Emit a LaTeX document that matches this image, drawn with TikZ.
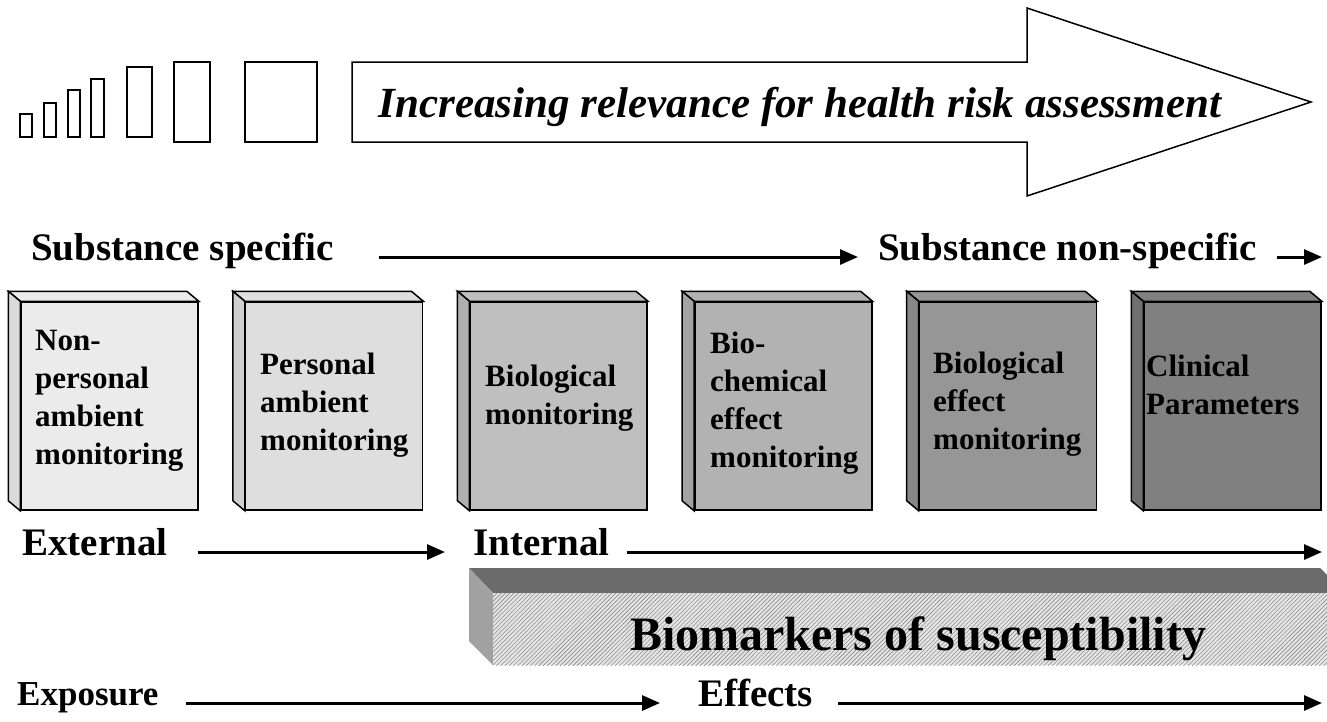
\documentclass[tikz,border=0pt]{standalone}
\usepackage{fontspec}
\setmainfont{Liberation Serif}
\usetikzlibrary{arrows.meta,patterns.meta}
\tikzset{
    flow/.style={line width=3pt, -{Triangle[length=18pt,width=15pt]}}, % Pfeile zwischen den Stufen
    edge/.style={draw, line width=1.5pt},
    monbox/.style={edge, minimum width=177pt, minimum height=208pt, inner sep=0pt},
    boxtext/.style={anchor=north west, align=left, inner sep=0pt, font=\bfseries\fontsize{31}{38}\selectfont},
    tag/.style={anchor=base west, inner sep=0pt, font=\bfseries\fontsize{39}{47}\selectfont}
}

\begin{document}
\begin{tikzpicture}[x=1pt, y=-1pt]
    \useasboundingbox (0,0) rectangle (1327,721);
    \clip (0,0) rectangle (1327,721);

    % Balken und grosser Pfeil
    \foreach \x/\w/\t/\b in {20/12/114/137, 44/12/103/137, 68/12/90/137, 91/13/79/137, 127/25/67/137, 174/36/62/142, 245/72/62/142}
        \draw[line width=2.5pt] (\x,\t) rectangle (\x+\w,\b);
    \draw[edge] (352,62) -- (1027,62) -- (1027,8) -- (1311,102) -- (1027,196) -- (1027,142) -- (352,142) -- cycle;
    \node[inner sep=0pt, anchor=base, font=\bfseries\itshape\fontsize{43}{50}\selectfont] (relev) at (800,117) {Increasing relevance for health risk assessment};

    \node[tag] (subspec) at (31,260) {Substance specific};
    \node[tag] (nonspec) at (878,260) {Substance non-specific};
    \coordinate (nsend) at (1322,257);
    \draw[flow] ([xshift=45pt, yshift=3pt]subspec.base east) -- ([xshift=-20pt, yshift=3pt]nonspec.base west);
    \draw[flow] ([xshift=20pt, yshift=3pt]nonspec.base east) -- (nsend);

    % Kaesten
    \foreach \i/\s/\d in {0/8/14, 1/13/19, 2/25/31, 3/30/36, 4/41/47, 5/50/56} {
        \pgfmathsetmacro\bx{21+224.6*\i}
        \node[monbox, fill=black!\s] (m\i) at (\bx+88.5,406) {};
        \draw[edge, fill=black!\s] (m\i.north west) -- ++(-12,-10) -- ([shift={(-12,-10)}]m\i.north east) -- (m\i.north east) -- cycle;
        \draw[edge, fill=black!\d] (m\i.north west) -- ++(-12,-10) -- ([shift={(-12,-10)}]m\i.south west) -- (m\i.south west) -- cycle;
    }
    \node[boxtext] (t0) at (35,330) {Non-\\personal\\ambient\\monitoring};
    \node[boxtext] (t1) at (260,353) {Personal\\ambient\\monitoring};
    \node[boxtext] (t2) at (485,365) {Biological\\monitoring};
    \node[boxtext] (t3) at (710,332) {Bio-\\chemical\\effect\\monitoring};
    \node[boxtext] (t4) at (933,352) {Biological\\effect\\monitoring};
    \node[boxtext] (t5) at (1146,355) {Clinical\\Parameters};

    \node[tag] (ext) at (22,555) {External};
    \node[tag] (int) at (473,555) {Internal};
    \coordinate (intend) at (1322,552);
    \draw[flow] ([xshift=30pt, yshift=3pt]ext.base east) -- ([xshift=-28pt, yshift=3pt]int.base west);
    \draw[flow] ([xshift=17pt, yshift=3pt]int.base east) -- (intend);

    % Biomarker-Balken
    \fill[black!58] (469,568) -- (1320,568) -- (1345,593) -- (493,593) -- cycle;
    \fill[black!37] (469,568) -- (493,593) -- (493,665) -- (469,641) -- cycle;
    \fill[black!10] (493,593) rectangle (1345,665);
    \fill[pattern={Lines[angle=45, distance=3pt, line width=0.6pt]}, pattern color=black!45] (493,593) rectangle (1345,665);
    \node[inner sep=0pt, anchor=base, font=\bfseries\fontsize{48}{56}\selectfont] (bio) at (918,650) {Biomarkers of susceptibility};

    \node[tag, font=\bfseries\fontsize{35}{42}\selectfont] (expo) at (17,705) {Exposure};
    \node[tag] (eff) at (698,706) {Effects};
    \coordinate (effend) at (1322,703);
    \draw[flow] ([xshift=27pt, yshift=2pt]expo.base east) -- ([xshift=-38pt, yshift=3pt]eff.base west);
    \draw[flow] ([xshift=25pt, yshift=3pt]eff.base east) -- (effend);
\end{tikzpicture}
\end{document}
